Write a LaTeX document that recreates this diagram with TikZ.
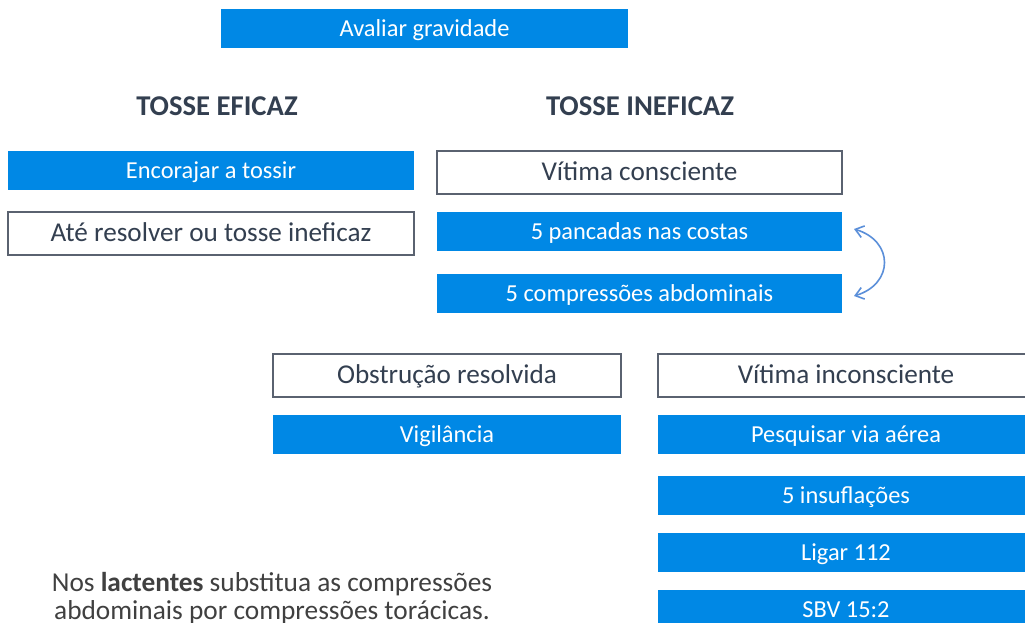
\documentclass[tikz,border=0pt]{standalone}
\usepackage{fontspec}
\setmainfont{Carlito}
\usetikzlibrary{arrows.meta}
\definecolor{boxblue}{HTML}{0088E5}
\definecolor{darktxt}{HTML}{333F50}
\definecolor{notetxt}{HTML}{404040}
\definecolor{bordergray}{HTML}{5A6270}
\definecolor{arrowblue}{HTML}{5B8FD9}
\tikzset{
  bluebox/.style={fill=boxblue, draw=none, text=white, inner sep=0pt, minimum height=39*0.75pt, text height=12.5pt, text depth=0pt, font=\fontsize{18.3}{21}\selectfont},
  whitebox/.style={fill=white, draw=bordergray, line width=0.9pt, text=darktxt, inner sep=0pt, minimum height=43*0.75pt, text height=12.4pt, text depth=0pt, font=\fontsize{20.4}{24}\selectfont},
  title/.style={text=darktxt, font=\fontsize{21.5}{25}\bfseries\selectfont, inner sep=0pt},
  note/.style={text=notetxt, align=center, font=\fontsize{20.5}{21}\selectfont, inner sep=0pt},
  loop/.style={arrowblue, line width=1.2pt, {Straight Barb[length=6pt,width=9pt]}-{Straight Barb[length=6pt,width=9pt]}}
}
\begin{document}
\begin{tikzpicture}[x=0.75pt,y=-0.75pt]
\useasboundingbox (0,0) rectangle (1025,623);
\begin{scope}
\clip (0,0) rectangle (1025,623);
\node[bluebox, minimum width=407*0.75pt] (avaliar) at (424.5,28.5) {Avaliar gravidade};
\node[title] (eficaz) at (217,106) {TOSSE EFICAZ};
\node[title] (ineficaz) at (640,106) {TOSSE INEFICAZ};
\node[bluebox, minimum width=406*0.75pt] (encorajar) at (211,170.5) {Encorajar a tossir};
\node[whitebox, minimum width=406*0.75pt] (ate) at (211,233.5) {Até resolver ou tosse ineficaz};
\node[whitebox, minimum width=405*0.75pt] (consciente) at (639.5,172.5) {Vítima consciente};
\node[bluebox, minimum width=405*0.75pt] (pancadas) at (639.5,231.5) {5 pancadas nas costas};
\node[bluebox, minimum width=405*0.75pt] (compressoes) at (639.5,293.5) {5 compressões abdominais};
\node[whitebox, minimum width=348*0.75pt] (obstrucao) at (447,375.5) {Obstrução resolvida};
\node[bluebox, minimum width=348*0.75pt] (vigilancia) at (447,434.5) {Vigilância};
\node[whitebox, minimum width=376*0.75pt] (inconsciente) at (846,375.5) {Vítima inconsciente};
\node[bluebox, minimum width=376*0.75pt] (pesquisar) at (846,434.5) {Pesquisar via aérea};
\node[bluebox, minimum width=376*0.75pt] (insuflacoes) at (846,495.5) {5 insuflações};
\node[bluebox, minimum width=376*0.75pt] (ligar) at (846,552.5) {Ligar 112};
\node[bluebox, minimum width=376*0.75pt] (sbv) at (846,609.5) {SBV 15:2};
\node[note] (nota) at (272,598) {Nos \textbf{lactentes} substitua as compressões\\abdominais por compressões torácicas.};
\coordinate (a1) at (854,229);
\coordinate (a2) at (854,296);
\draw[loop] (a1) .. controls +(40,12) and +(40,-12) .. (a2);
\end{scope}
\end{tikzpicture}
\end{document}
